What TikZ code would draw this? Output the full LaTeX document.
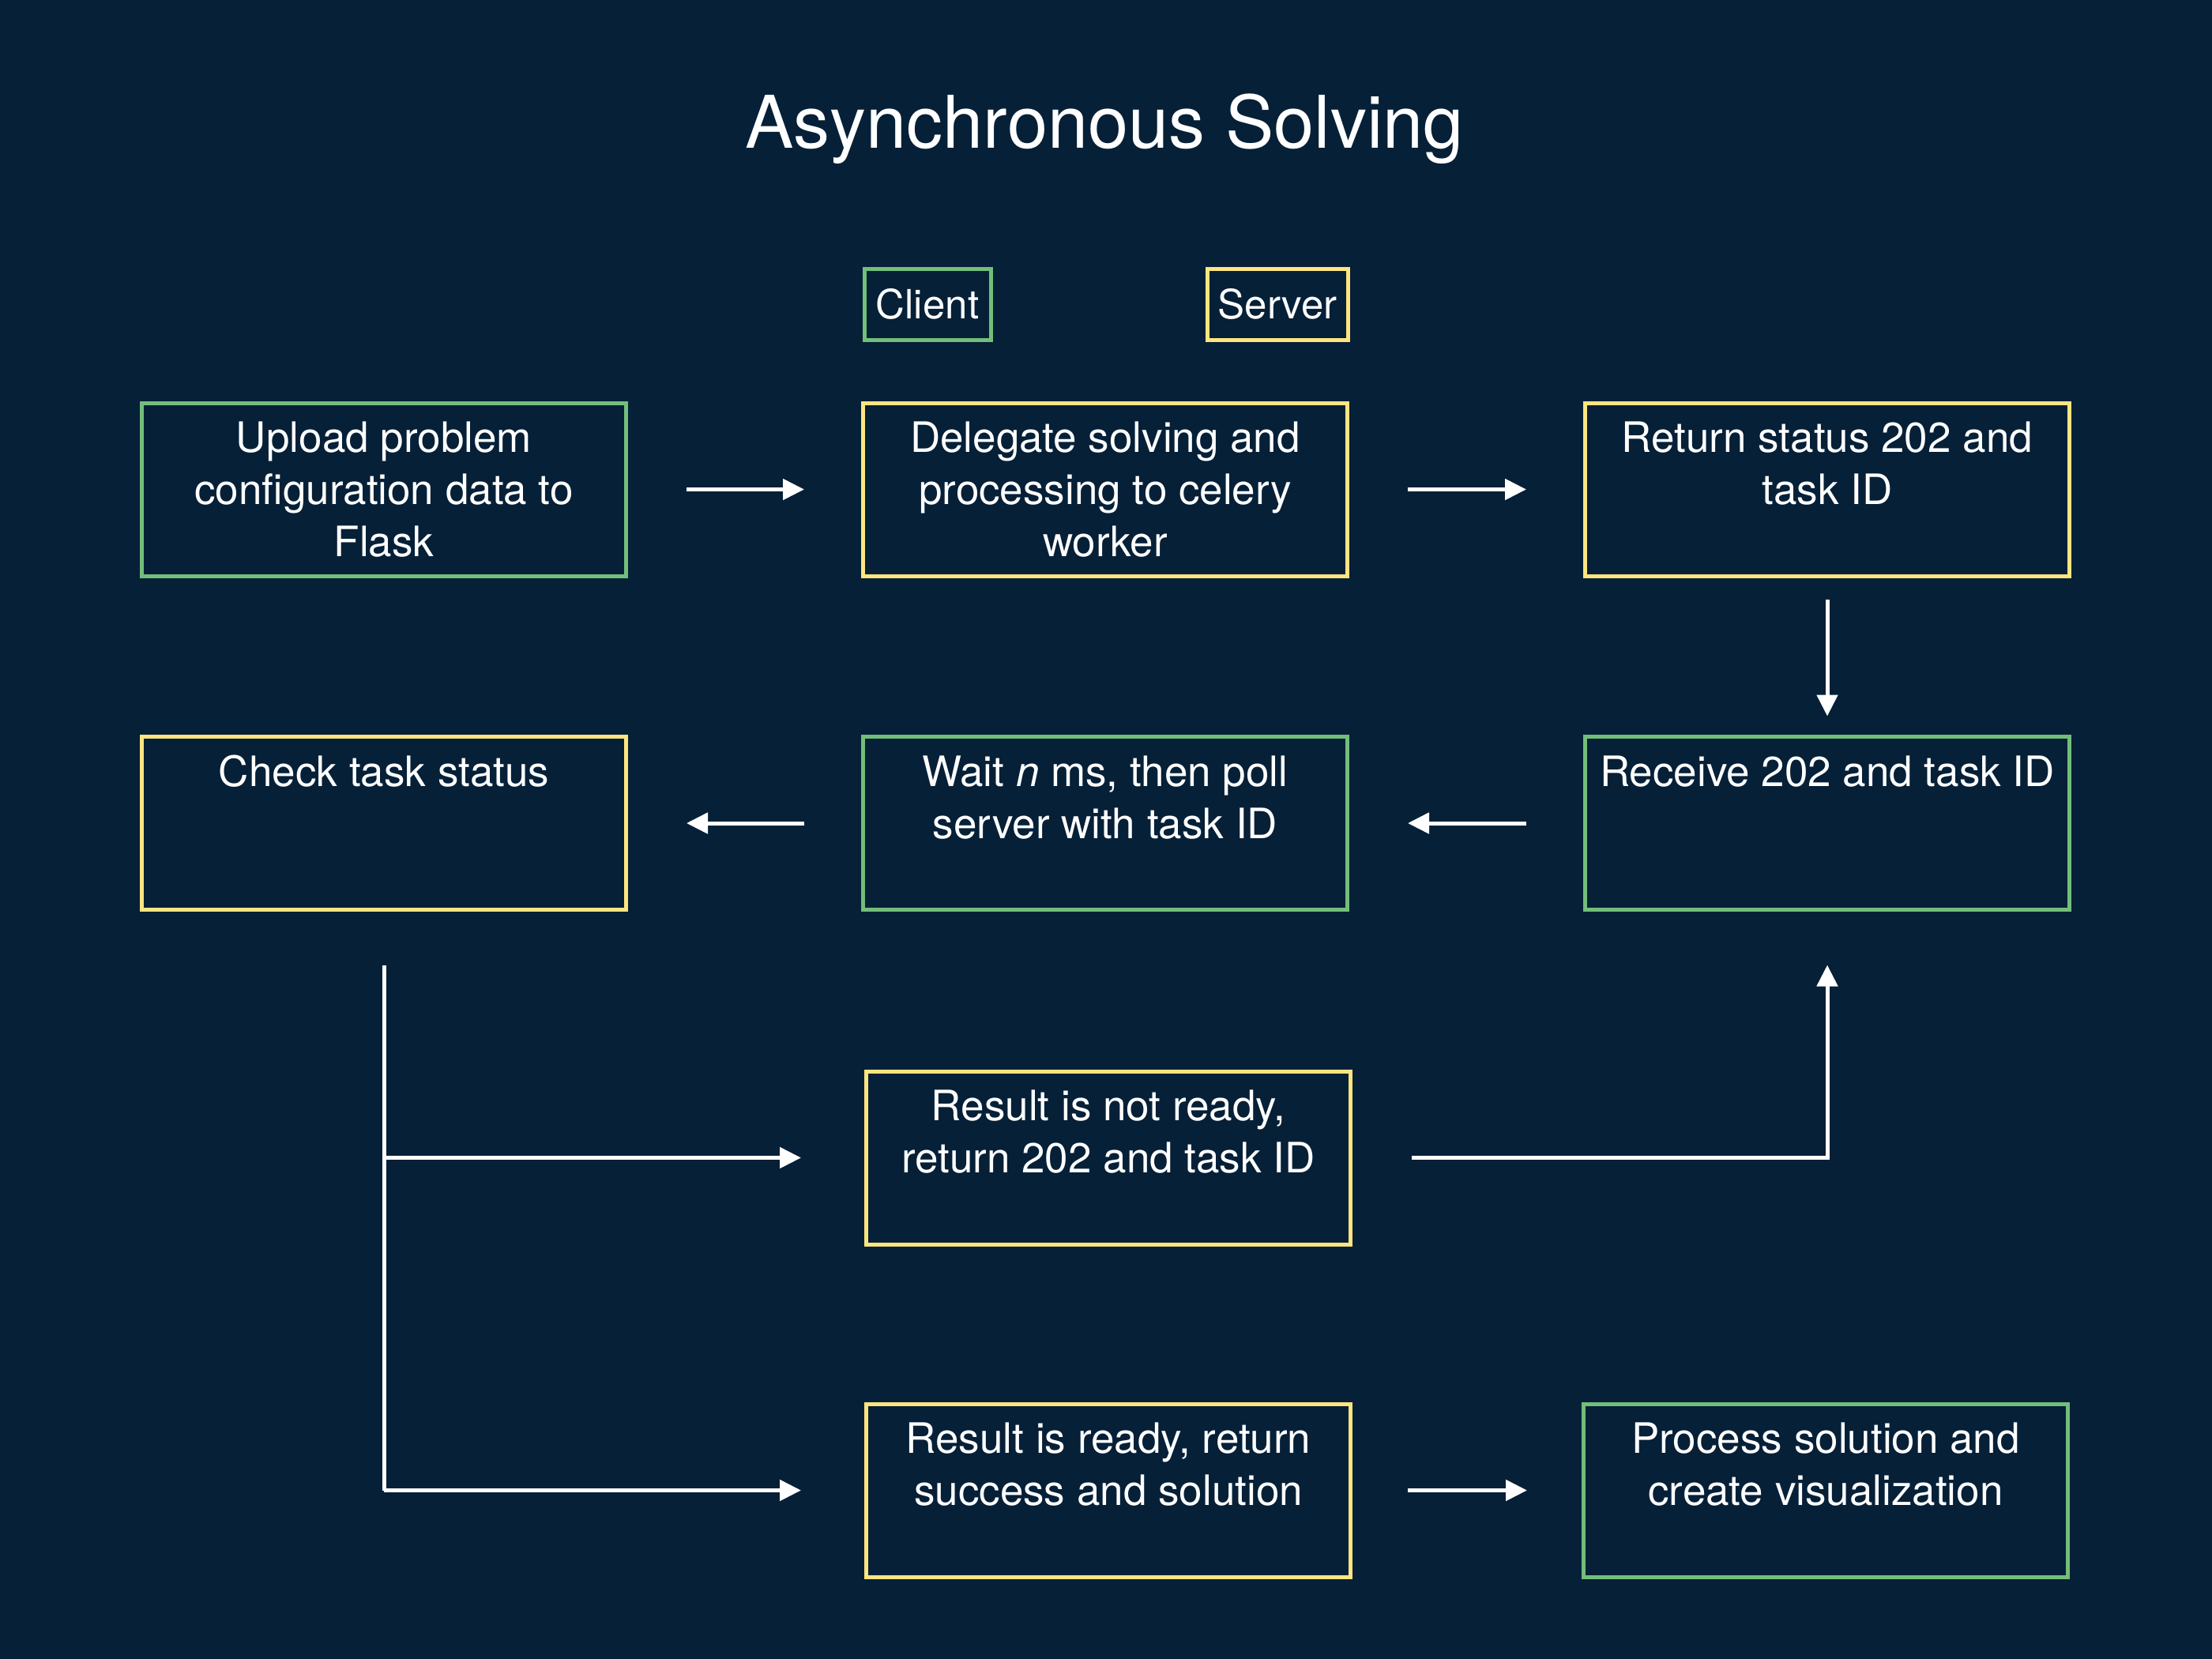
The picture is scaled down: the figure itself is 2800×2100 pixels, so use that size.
\documentclass[tikz,border=0pt]{standalone}
\usepackage{fontspec}
\setmainfont{TeX Gyre Heros}
\usetikzlibrary{arrows.meta,calc}
\definecolor{bg}{RGB}{6,32,56}
\definecolor{cgreen}{RGB}{115,190,122}
\definecolor{cyellow}{RGB}{253,229,128}
\newcommand{\boxtext}[1]{\parbox[c][172pt][t]{606pt}{\centering\rule{0pt}{39pt}#1}}
\tikzset{
  box/.style={draw, line width=5pt, minimum width=613pt, minimum height=219pt,
    inner sep=0pt, outer sep=0pt, text=white, font=\fontsize{53pt}{66pt}\selectfont},
  gbox/.style={box, draw=cgreen},
  ybox/.style={box, draw=cyellow},
  legend/.style={draw, line width=5pt, minimum height=90pt, inner sep=0pt, outer sep=0pt,
    text=white, font=\fontsize{51pt}{62pt}\selectfont},
  conn/.style={draw=white, line width=5pt},
  arr/.style={conn, -{Triangle[length=27pt,width=26pt]}}
}
\begin{document}
\begin{tikzpicture}[x=1pt,y=-1pt]
\fill[bg] (0,0) rectangle (2800,2100);
\useasboundingbox (0,0) rectangle (2800,2100);

\node[text=white, font=\fontsize{92pt}{110pt}\selectfont, anchor=base] (title) at (1398,188) {Asynchronous Solving};

\node[legend, draw=cgreen, minimum width=160pt] (client) at (1174,385) {Client};
\node[legend, draw=cyellow, minimum width=178pt] (server) at (1617,385) {Server};

\node[gbox] (upload) at (486,619.5) {\boxtext{Upload problem\\configuration data to\\Flask}};
\node[ybox] (delegate) at (1399,619.5) {\boxtext{Delegate solving and\\processing to celery\\worker}};
\node[ybox] (return) at (2313,619.5) {\boxtext{Return status 202 and\\task ID}};

\node[ybox] (check) at (486,1042) {\boxtext{Check task status}};
\node[gbox] (wait) at (1399,1042) {\boxtext{Wait \textit{n} ms, then poll\\server with task ID}};
\node[gbox] (receive) at (2313,1042) {\boxtext{Receive 202 and task ID}};

\node[ybox] (notready) at (1403,1465.5) {\boxtext{Result is not ready,\\return 202 and task ID}};
\node[ybox] (ready) at (1403,1886.5) {\boxtext{Result is ready, return\\success and solution}};
\node[gbox] (process) at (2311,1886.5) {\boxtext{Process solution and\\create visualization}};

\draw[arr, shorten <=76.5pt, shorten >=74.5pt] (upload) -- (delegate);
\draw[arr, shorten <=76.5pt, shorten >=74.5pt] (delegate) -- (return);
\draw[arr, shorten <=30pt, shorten >=26pt] (return) -- (receive);
\draw[arr, shorten <=74.5pt, shorten >=76.5pt] (receive) -- (wait);
\draw[arr, shorten <=74.5pt, shorten >=76.5pt] (wait) -- (check);

\draw[conn] ([yshift=-70pt]check.south) -- (check.south |- ready.west);
\draw[arr, shorten >=82.5pt] (check.south |- notready.west) -- (notready.west);
\draw[arr, shorten >=82.5pt] (check.south |- ready.west) -- (ready.west);
\draw[arr] ([xshift=77.5pt]notready.east) -| ([yshift=-70pt]receive.south);
\draw[arr, shorten <=72.5pt, shorten >=71.5pt] (ready) -- (process);
\end{tikzpicture}
\end{document}
